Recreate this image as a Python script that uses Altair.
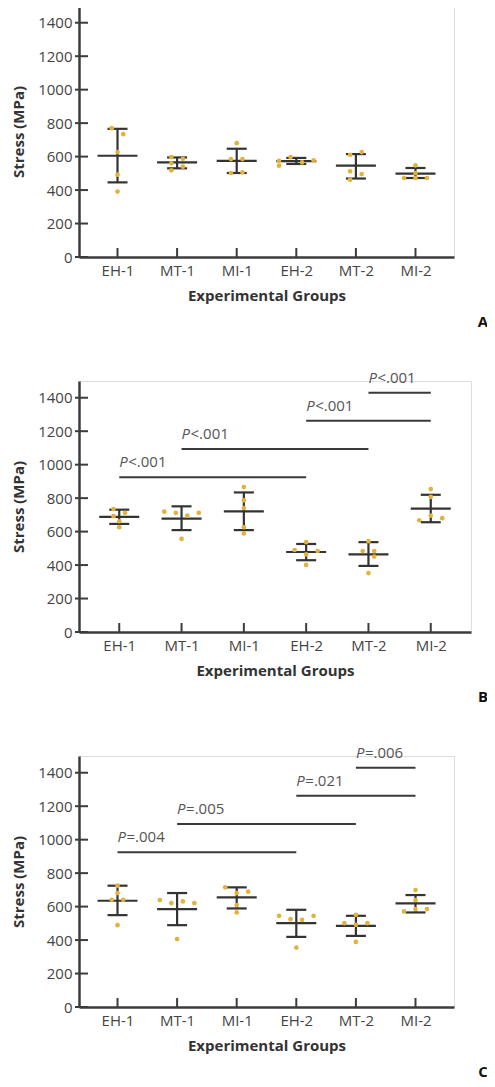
import altair as alt
import pandas as pd

GROUPS = ["EH-1", "MT-1", "MI-1", "EH-2", "MT-2", "MI-2"]
Y_TICKS = [0, 200, 400, 600, 800, 1000, 1200, 1400]

# ---- Panel A ----
A_points = [[770, 734, 627, 492, 391], [597, 587, 560, 540, 518], [680, 585, 585, 502, 506],
            [575, 546, 597, 565, 577], [611, 627, 512, 496, 462], [548, 502, 472, 472, 472]]
A_slots = [[-0.5, 0.5, 0, 0, 0], [-0.5, 0.5, -0.5, 0.5, -0.5], [0, -0.5, 0.5, -0.5, 0.5],
           [-1.5, -1.5, -0.5, 0.5, 1.5], [-0.5, 0.5, -0.5, 0.5, -0.5], [0, 0, -1, 1, 0]]
A_mean = [605, 565, 575, 573, 546, 498]
A_low = [446, 530, 502, 556, 469, 472]
A_high = [766, 595, 647, 592, 615, 532]

# ---- Panel B ----
B_points = [[735, 712, 692, 662, 626], [719, 712, 696, 712, 557], [866, 787, 741, 626, 589],
            [537, 490, 484, 464, 401], [543, 484, 484, 451, 352], [854, 807, 696, 668, 680]]
B_slots = [[-0.5, 0.5, -0.5, 0, 0], [-1.5, -0.5, 0.5, 1.5, 0], [0, 0, 0, 0, 0],
           [0, -1, 1, 0, 0], [0, -0.5, 0.5, 0.5, 0], [0, 0, 0, -1, 1]]
B_mean = [688, 678, 721, 478, 464, 737]
B_low = [646, 609, 609, 429, 395, 656]
B_high = [731, 751, 834, 526, 537, 820]
B_sig = ["<.001", "<.001", "<.001", "<.001"]

# ---- Panel C ----
C_points = [[725, 681, 641, 641, 489], [639, 621, 631, 621, 406], [715, 681, 689, 609, 565],
            [545, 525, 521, 545, 355], [551, 501, 491, 501, 389], [699, 639, 571, 585, 585]]
C_slots = [[0, 0, -0.5, 0.5, 0], [-1.5, -0.5, 0.5, 1.5, 0], [-1, 0, 1, 0, 0],
           [-1.5, -0.5, 0.5, 1.5, 0], [0, -1, 0, 1, 0], [0, 0, -1, 1, 0]]
C_mean = [635, 585, 655, 501, 485, 619]
C_low = [549, 489, 589, 419, 425, 565]
C_high = [725, 681, 715, 581, 545, 669]
C_sig = ["=.004", "=.005", "=.021", "=.006"]

# significance brackets (shared by B and C)
SIG_START = ["EH-1", "MT-1", "EH-2", "MT-2"]
SIG_END = ["EH-2", "MT-2", "MI-2", "MI-2"]
SIG_Y = [925, 1093, 1262, 1430]

DOT = "#E3B23C"
INK = "#333333"
AXIS = "#3c3c3c"
FONT = "Open Sans"
H = 251


def xenc(field, width):
    return alt.X(field, type="nominal",
                 scale=alt.Scale(type="point", domain=GROUPS, padding=0.646),
                 axis=alt.Axis(title="Experimental Groups", labelAngle=0, ticks=False, tickSize=0,
                               labelPadding=6, titlePadding=10, domainColor=AXIS, domainWidth=2.5,
                               labelFont=FONT, labelFontSize=15, labelColor="#444444",
                               titleFont=FONT, titleFontSize=15, titleFontWeight="bold",
                               titleColor="#333333"))


def yenc(field):
    return alt.Y(field, type="quantitative",
                 scale=alt.Scale(domain=[0, 1500], nice=False),
                 axis=alt.Axis(title="Stress (MPa)", values=Y_TICKS, format="d", grid=False,
                               ticks=False, tickSize=0, labelPadding=7, titlePadding=11,
                               domainColor=AXIS, domainWidth=2.5, labelFont=FONT,
                               labelFontSize=15, labelColor="#444444", titleFont=FONT,
                               titleFontSize=15, titleFontWeight="bold", titleColor="#333333"))


def panel(letter, points, slots, means, lows, highs, width, sig=None):
    rows = []
    for g, vals, sl in zip(GROUPS, points, slots):
        for v, s in zip(vals, sl):
            rows.append({"group": g, "value": v, "slot": s})
    pts = pd.DataFrame(rows)
    summ = pd.DataFrame({"group": GROUPS, "mean": means, "low": lows, "high": highs})
    ticks_y = pd.DataFrame({"tick": Y_TICKS})
    ticks_x = pd.DataFrame({"group": GROUPS})

    layers = []
    layers.append(alt.Chart(ticks_y).mark_rule(color=AXIS, strokeWidth=2).encode(
        x=alt.value(-4), x2=alt.value(9), y=yenc("tick")))
    layers.append(alt.Chart(ticks_x).mark_rule(color=AXIS, strokeWidth=2).encode(
        x=xenc("group", width), y=alt.value(H + 1), y2=alt.value(H - 9)))
    layers.append(alt.Chart(summ).mark_rule(color=INK, strokeWidth=2.2).encode(
        x=xenc("group", width), y=yenc("low"), y2="high:Q"))
    layers.append(alt.Chart(summ).mark_tick(color=INK, size=40, thickness=2.2, opacity=1).encode(
        x=xenc("group", width), y=yenc("mean")))
    layers.append(alt.Chart(summ).mark_tick(color=INK, size=20, thickness=2.2, opacity=1).encode(
        x=xenc("group", width), y=yenc("low")))
    layers.append(alt.Chart(summ).mark_tick(color=INK, size=20, thickness=2.2, opacity=1).encode(
        x=xenc("group", width), y=yenc("high")))
    layers.append(alt.Chart(pts).mark_circle(color=DOT, size=22, opacity=1).encode(
        x=xenc("group", width), y=yenc("value"),
        xOffset=alt.XOffset("slot:Q", scale=alt.Scale(domain=[-2, 2], range=[-23, 23]))))
    if sig is not None:
        sdf = pd.DataFrame({"start": SIG_START, "end": SIG_END, "sy": SIG_Y, "label": sig,
                            "p": ["P"] * 4})
        layers.append(alt.Chart(sdf).mark_rule(color="#3a3a3a", strokeWidth=2).encode(
            x=xenc("start", width), x2="end:N", y=yenc("sy")))
        layers.append(alt.Chart(sdf).mark_text(font=FONT, fontSize=15, fontStyle="italic",
                                                color="#555555", align="left", baseline="middle",
                                                dy=-15).encode(
            x=xenc("start", width), y=yenc("sy"), text="p:N"))
        layers.append(alt.Chart(sdf).mark_text(font=FONT, fontSize=15, color="#555555",
                                                align="left", baseline="middle", dx=9,
                                                dy=-15).encode(
            x=xenc("start", width), y=yenc("sy"), text="label:N"))
    layers.append(alt.Chart(pd.DataFrame({"t": [letter]})).mark_text(
        font=FONT, fontSize=15, fontWeight="bold", color="#111111", align="center",
        baseline="middle").encode(text="t:N", x=alt.value(404), y=alt.value(H + 65)))
    return alt.layer(*layers).properties(width=width, height=H)


pA = panel("A", A_points, A_slots, A_mean, A_low, A_high, 375)
pB = panel("B", B_points, B_slots, B_mean, B_low, B_high, 392, B_sig)
pC = panel("C", C_points, C_slots, C_mean, C_low, C_high, 375, C_sig)

chart = alt.vconcat(pA, pB, pC, spacing=124, bounds="flush").properties(
    padding={"left": 3, "top": -3, "right": -2, "bottom": 0}
).configure_view(strokeWidth=0).configure(background="white")

chart.save("out.html", embed_options={"renderer": "svg", "actions": False})
